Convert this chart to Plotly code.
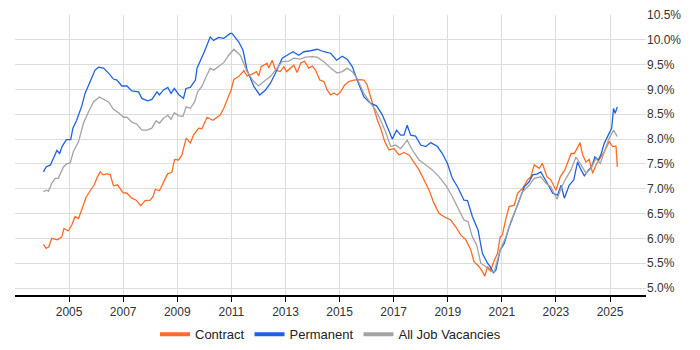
import plotly.graph_objects as go

# Contract (orange)
contract_x = [2004.05, 2004.15, 2004.25, 2004.36, 2004.57, 2004.73, 2004.81, 2004.97, 2005.10, 2005.22,
              2005.35, 2005.47, 2005.63, 2005.78, 2005.93, 2006.05, 2006.15, 2006.25, 2006.40, 2006.52,
              2006.64, 2006.79, 2006.99, 2007.14, 2007.32, 2007.48, 2007.65, 2007.81, 2008.00, 2008.10,
              2008.19, 2008.34, 2008.49, 2008.64, 2008.80, 2008.90, 2009.05, 2009.17, 2009.33, 2009.48,
              2009.60, 2009.79, 2009.91, 2010.10, 2010.32, 2010.47, 2010.59, 2010.72, 2010.88, 2010.99,
              2011.09, 2011.27, 2011.46, 2011.58, 2011.77, 2011.93, 2012.01, 2012.10, 2012.32, 2012.38,
              2012.51, 2012.63, 2012.81, 2012.94, 2013.04, 2013.19, 2013.31, 2013.43, 2013.56, 2013.70,
              2013.86, 2013.99, 2014.11, 2014.27, 2014.42, 2014.54, 2014.67, 2014.79, 2014.91, 2015.04,
              2015.19, 2015.34, 2015.53, 2015.75, 2015.90, 2016.02, 2016.15, 2016.27, 2016.40, 2016.52,
              2016.67, 2016.83, 2017.01, 2017.20, 2017.38, 2017.57, 2017.75, 2017.94, 2018.12, 2018.31,
              2018.49, 2018.68, 2018.86, 2019.11, 2019.30, 2019.48, 2019.67, 2019.85, 2019.97, 2020.16,
              2020.28, 2020.37, 2020.47, 2020.59, 2020.72, 2020.84, 2020.94, 2021.02, 2021.15, 2021.27,
              2021.46, 2021.58, 2021.77, 2021.95, 2022.07, 2022.20, 2022.38, 2022.50, 2022.67, 2022.81,
              2023.00, 2023.16, 2023.33, 2023.43, 2023.56, 2023.68, 2023.89, 2023.99, 2024.11, 2024.23,
              2024.36, 2024.48, 2024.60, 2024.79, 2024.97, 2025.10, 2025.22, 2025.27]
contract_y = [5.88, 5.80, 5.83, 6.00, 5.97, 6.03, 6.20, 6.15, 6.27, 6.44,
              6.40, 6.57, 6.83, 6.96, 7.08, 7.24, 7.34, 7.28, 7.30, 7.29,
              7.06, 7.08, 6.92, 6.91, 6.81, 6.77, 6.66, 6.76, 6.77, 6.84,
              6.99, 6.96, 7.14, 7.30, 7.33, 7.59, 7.58, 7.68, 8.02, 7.92,
              8.08, 8.22, 8.21, 8.44, 8.38, 8.45, 8.49, 8.62, 8.85, 8.99,
              9.20, 9.26, 9.38, 9.27, 9.31, 9.36, 9.27, 9.46, 9.53, 9.43,
              9.59, 9.39, 9.36, 9.46, 9.36, 9.43, 9.49, 9.34, 9.53, 9.57,
              9.43, 9.47, 9.39, 9.19, 9.16, 8.99, 8.89, 8.93, 8.89, 8.95,
              9.09, 9.16, 9.19, 9.20, 9.19, 9.09, 8.85, 8.65, 8.38, 8.22,
              7.95, 7.78, 7.81, 7.68, 7.73, 7.68, 7.54, 7.38, 7.18, 6.97,
              6.71, 6.50, 6.44, 6.37, 6.23, 6.07, 5.97, 5.77, 5.53, 5.43,
              5.33, 5.24, 5.43, 5.36, 5.56, 5.70, 6.03, 6.07, 6.40, 6.64,
              6.67, 6.91, 7.01, 7.18, 7.24, 7.48, 7.41, 7.51, 7.24, 7.18,
              6.97, 7.24, 7.38, 7.51, 7.71, 7.71, 7.93, 7.68, 7.54, 7.59,
              7.31, 7.48, 7.58, 7.75, 7.95, 7.85, 7.86, 7.44]

# Permanent (blue)
perm_x = [2004.05, 2004.15, 2004.31, 2004.55, 2004.65, 2004.74, 2004.90, 2005.06, 2005.14, 2005.28,
          2005.47, 2005.59, 2005.78, 2005.96, 2006.09, 2006.27, 2006.46, 2006.64, 2006.77, 2006.95,
          2007.14, 2007.32, 2007.57, 2007.69, 2007.90, 2008.06, 2008.25, 2008.34, 2008.49, 2008.65,
          2008.77, 2008.89, 2009.05, 2009.23, 2009.32, 2009.48, 2009.67, 2009.73, 2010.00, 2010.22,
          2010.34, 2010.53, 2010.72, 2010.96, 2011.02, 2011.27, 2011.43, 2011.58, 2011.83, 2012.05,
          2012.26, 2012.44, 2012.63, 2012.88, 2013.06, 2013.28, 2013.49, 2013.68, 2013.93, 2014.17,
          2014.42, 2014.67, 2014.89, 2015.10, 2015.28, 2015.47, 2015.65, 2015.90, 2016.15, 2016.37,
          2016.58, 2016.77, 2016.95, 2017.11, 2017.26, 2017.38, 2017.50, 2017.63, 2017.81, 2018.00,
          2018.19, 2018.37, 2018.62, 2018.80, 2018.99, 2019.17, 2019.36, 2019.60, 2019.73, 2019.91,
          2020.12, 2020.28, 2020.47, 2020.57, 2020.69, 2020.78, 2020.94, 2021.09, 2021.27, 2021.46,
          2021.64, 2021.83, 2022.01, 2022.14, 2022.32, 2022.44, 2022.67, 2022.88, 2023.06, 2023.19,
          2023.31, 2023.49, 2023.66, 2023.80, 2023.93, 2024.05, 2024.21, 2024.32, 2024.44, 2024.57,
          2024.67, 2024.79, 2024.97, 2025.06, 2025.13, 2025.19, 2025.27]
perm_y = [7.34, 7.44, 7.48, 7.77, 7.71, 7.85, 7.99, 7.99, 8.22, 8.38,
          8.67, 8.92, 9.16, 9.39, 9.45, 9.43, 9.33, 9.21, 9.19, 9.07,
          9.07, 8.97, 8.95, 8.82, 8.77, 8.80, 8.95, 8.89, 8.99, 9.04,
          8.92, 9.02, 8.90, 8.82, 9.02, 9.04, 9.19, 9.43, 9.76, 10.06,
          9.99, 10.05, 10.03, 10.13, 10.13, 9.96, 9.79, 9.39, 9.06, 8.89,
          8.99, 9.12, 9.33, 9.63, 9.69, 9.76, 9.69, 9.76, 9.78, 9.81,
          9.76, 9.73, 9.59, 9.67, 9.61, 9.46, 9.19, 8.85, 8.72, 8.67,
          8.49, 8.25, 8.00, 8.18, 8.08, 8.08, 8.28, 8.08, 8.06, 7.88,
          7.85, 7.93, 7.85, 7.71, 7.51, 7.21, 7.04, 6.77, 6.76, 6.44,
          6.17, 5.70, 5.50, 5.43, 5.31, 5.36, 5.77, 5.90, 6.23, 6.50,
          6.77, 7.04, 7.14, 7.28, 7.30, 7.34, 7.12, 6.91, 6.87, 7.07,
          6.81, 7.07, 7.18, 7.54, 7.38, 7.26, 7.38, 7.44, 7.64, 7.58,
          7.70, 7.92, 8.12, 8.22, 8.62, 8.52, 8.65]

# All Job Vacancies (grey)
all_x = [2004.05, 2004.15, 2004.24, 2004.36, 2004.48, 2004.60, 2004.79, 2004.91, 2005.04, 2005.16,
         2005.35, 2005.53, 2005.72, 2005.90, 2006.12, 2006.30, 2006.46, 2006.64, 2006.83, 2007.01,
         2007.14, 2007.32, 2007.51, 2007.69, 2007.88, 2008.06, 2008.22, 2008.34, 2008.49, 2008.65,
         2008.77, 2008.89, 2009.05, 2009.21, 2009.33, 2009.48, 2009.64, 2009.75, 2009.91, 2010.07,
         2010.22, 2010.34, 2010.53, 2010.72, 2010.90, 2011.09, 2011.33, 2011.58, 2011.83, 2012.01,
         2012.20, 2012.44, 2012.63, 2012.88, 2013.12, 2013.31, 2013.56, 2013.74, 2013.99, 2014.17,
         2014.42, 2014.67, 2014.91, 2015.10, 2015.28, 2015.47, 2015.65, 2015.90, 2016.15, 2016.33,
         2016.52, 2016.70, 2016.89, 2017.07, 2017.26, 2017.50, 2017.69, 2017.94, 2018.19, 2018.43,
         2018.68, 2018.93, 2019.17, 2019.42, 2019.60, 2019.75, 2019.91, 2020.07, 2020.22, 2020.41,
         2020.59, 2020.72, 2020.94, 2021.15, 2021.33, 2021.58, 2021.77, 2022.01, 2022.20, 2022.44,
         2022.63, 2022.81, 2023.04, 2023.19, 2023.37, 2023.56, 2023.74, 2023.93, 2024.11, 2024.30,
         2024.48, 2024.64, 2024.79, 2024.97, 2025.13, 2025.27]
all_y = [6.94, 6.97, 6.95, 7.11, 7.21, 7.21, 7.44, 7.50, 7.52, 7.75,
         7.95, 8.32, 8.55, 8.75, 8.85, 8.80, 8.75, 8.60, 8.53, 8.44,
         8.44, 8.34, 8.30, 8.18, 8.18, 8.22, 8.37, 8.32, 8.42, 8.48,
         8.40, 8.53, 8.47, 8.46, 8.65, 8.62, 8.75, 8.95, 9.06, 9.26,
         9.43, 9.39, 9.47, 9.54, 9.69, 9.81, 9.69, 9.36, 9.16, 9.07,
         9.16, 9.26, 9.39, 9.56, 9.57, 9.63, 9.61, 9.65, 9.66, 9.65,
         9.56, 9.43, 9.33, 9.36, 9.43, 9.36, 9.22, 8.92, 8.72, 8.59,
         8.38, 8.15, 7.85, 7.88, 7.81, 7.98, 7.78, 7.58, 7.48, 7.38,
         7.24, 7.07, 6.84, 6.57, 6.37, 6.34, 6.03, 5.87, 5.50, 5.43,
         5.33, 5.33, 5.77, 6.03, 6.34, 6.67, 6.94, 7.07, 7.21, 7.24,
         7.11, 7.04, 6.79, 7.01, 7.21, 7.38, 7.64, 7.48, 7.31, 7.41,
         7.61, 7.51, 7.75, 8.02, 8.18, 8.05]

year_ticks = [2005, 2007, 2009, 2011, 2013, 2015, 2017, 2019, 2021, 2023, 2025]
pct_ticks = [5.0, 5.5, 6.0, 6.5, 7.0, 7.5, 8.0, 8.5, 9.0, 9.5, 10.0, 10.5]

series = [
    ("Contract", contract_x, contract_y, "#ff6a24"),
    ("Permanent", perm_x, perm_y, "#1f62e0"),
    ("All Job Vacancies", all_x, all_y, "#a3a3a3"),
]

fig = go.Figure()
for name, xs, ys, col in series:
    fig.add_trace(go.Scatter(x=xs, y=ys, name=name, mode="lines", showlegend=False,
                             line=dict(color=col, width=1.3)))
# legend entries with thick swatches (no data drawn)
for name, xs, ys, col in series:
    fig.add_trace(go.Scatter(x=[None], y=[None], name=name, mode="lines", showlegend=True,
                             line=dict(color=col, width=4)))

fig.update_layout(
    width=700, height=350,
    margin=dict(l=15, r=54, t=15, b=55, autoexpand=False),
    paper_bgcolor="white", plot_bgcolor="white",
    font=dict(family="Liberation Sans, Arial, sans-serif", size=12, color="#333333"),
    showlegend=True,
    legend=dict(orientation="h", x=0.5, xanchor="center", yref="container", y=0.045, yanchor="middle",
                font=dict(size=13, color="#222222"), itemwidth=30, traceorder="normal"),
    hovermode=False,
)
fig.update_xaxes(range=[2003.0, 2026.33], tickvals=year_ticks, ticktext=[str(v) for v in year_ticks],
                 showgrid=True, gridcolor="#dddddd", gridwidth=1,
                 showline=True, linecolor="#000000", linewidth=1.5,
                 ticks="outside", ticklen=5, tickcolor="#000000", zeroline=False)
fig.update_yaxes(range=[4.86, 10.5], side="right", tickvals=pct_ticks,
                 ticktext=[f"{v:.1f}%" for v in pct_ticks],
                 showgrid=True, gridcolor="#dddddd", gridwidth=1,
                 showline=False, ticks="", zeroline=False)

fig.write_html("out.html", config={"displayModeBar": False},
               post_script="document.body.style.margin='0';")
